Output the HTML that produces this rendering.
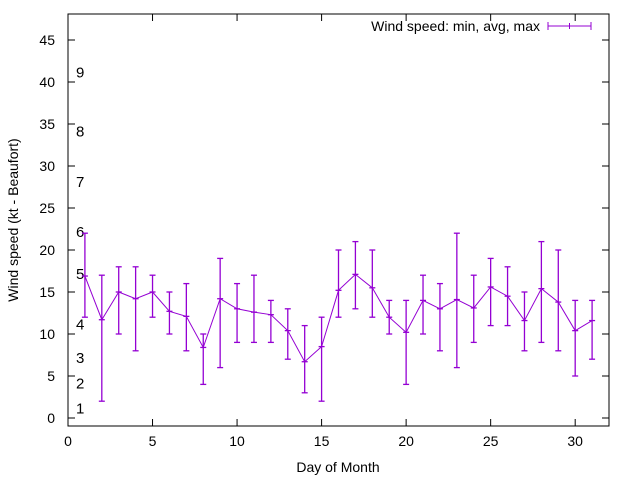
<!DOCTYPE html>
<html><head><meta charset="utf-8"><style>
body{margin:0;background:#fff}
svg text{font-family:"Liberation Sans",sans-serif;font-size:14px;fill:#000}
svg text.bf{font-size:15px}
</style></head><body>
<svg id="chart" width="640" height="480">
<rect x="0" y="0" width="640" height="480" fill="#fff"/>
<g id="grid"></g>
<rect x="68" y="14" width="541" height="412" fill="none" stroke="#000" stroke-width="1"/>
<g id="marks"></g>
<text x="338" y="472" text-anchor="middle">Day of Month</text>
<text transform="translate(18,220) rotate(-90)" text-anchor="middle">Wind speed (kt - Beaufort)</text>
<g>
<text x="540" y="31" text-anchor="end">Wind speed: min, avg, max</text>
<line x1="548" y1="26" x2="591" y2="26" stroke="#9400d3"/>
<line x1="548" y1="22" x2="548" y2="30" stroke="#9400d3"/>
<line x1="591" y1="22" x2="591" y2="30" stroke="#9400d3"/>
<line x1="569.5" y1="23" x2="569.5" y2="29" stroke="#9400d3"/>
</g>
</svg>
<script>
const days=[1,2,3,4,5,6,7,8,9,10,11,12,13,14,15,16,17,18,19,20,21,22,23,24,25,26,27,28,29,30,31];
const avgs=[16.9,11.7,15,14.2,15,12.7,12.1,8.4,14.2,13,12.6,12.3,10.4,6.7,8.5,15.2,17.1,15.5,12,10.2,14,13,14.1,13.1,15.6,14.5,11.6,15.4,13.8,10.4,11.6];
const mins=[12,2,10,8,12,10,8,4,6,9,9,9,7,3,2,12,13,12,10,4,10,8,6,9,11,11,8,9,8,5,7];
const maxs=[22,17,18,18,17,15,16,10,19,16,17,14,13,11,12,20,21,20,14,14,17,16,22,17,19,18,15,21,20,14,14];
const xTicks=[0,5,10,15,20,25,30];
const yTicks=[0,5,10,15,20,25,30,35,40,45];
const beaufortLabels=["1","2","3","4","5","6","7","8","9"];
const beaufortKt=[1,4,7,11,17,22,28,34,41];
const X=v=>68+v*(541/32);
const Y=v=>418-v*8.4;
const NS="http://www.w3.org/2000/svg";
const grid=document.getElementById('grid'),marks=document.getElementById('marks');
function mk(p,tag,a){const e=document.createElementNS(NS,tag);for(const k in a)e.setAttribute(k,a[k]);p.appendChild(e);return e;}
xTicks.forEach(t=>{
 const l=mk(grid,'line',{x1:X(t),x2:X(t),y1:426,y2:419,stroke:'#000'});
 
 
 const l2=mk(grid,'line',{x1:X(t),x2:X(t),y1:14,y2:21,stroke:'#000'});
 
 
 const tx=mk(grid,'text',{x:X(t),y:446,'text-anchor':'middle'});tx.textContent=t;
 
 
});
yTicks.forEach(t=>{
 const l=mk(grid,'line',{x1:68,x2:75,y1:Y(t),y2:Y(t),stroke:'#000'});
 
 
 const l2=mk(grid,'line',{x1:602,x2:609,y1:Y(t),y2:Y(t),stroke:'#000'});
 
 
 const tx=mk(grid,'text',{x:55,y:Y(t)+5,'text-anchor':'end'});tx.textContent=t;
 
 
});
beaufortLabels.forEach((b,i)=>{
 const tx=mk(grid,'text',{x:76,y:Y(beaufortKt[i])+4,'class':'bf'});tx.textContent=b;
 
 
});
const pl=mk(marks,'polyline',{points:days.map((d,i)=>X(d)+','+Y(avgs[i])).join(' '),fill:'none',stroke:'#9400d3','stroke-width':1});


days.forEach((d,i)=>{
 const g=mk(marks,'g',{stroke:'#9400d3','stroke-width':1.3});
 
 
 const x=X(d);
 mk(g,'line',{x1:x,x2:x,y1:Y(mins[i]),y2:Y(maxs[i])});
 mk(g,'line',{x1:x-3,x2:x+3,y1:Y(mins[i]),y2:Y(mins[i])});
 mk(g,'line',{x1:x-3,x2:x+3,y1:Y(maxs[i]),y2:Y(maxs[i])});
 mk(g,'line',{x1:x-3,x2:x+3,y1:Y(avgs[i]),y2:Y(avgs[i])});
});
</script>
</body></html>
